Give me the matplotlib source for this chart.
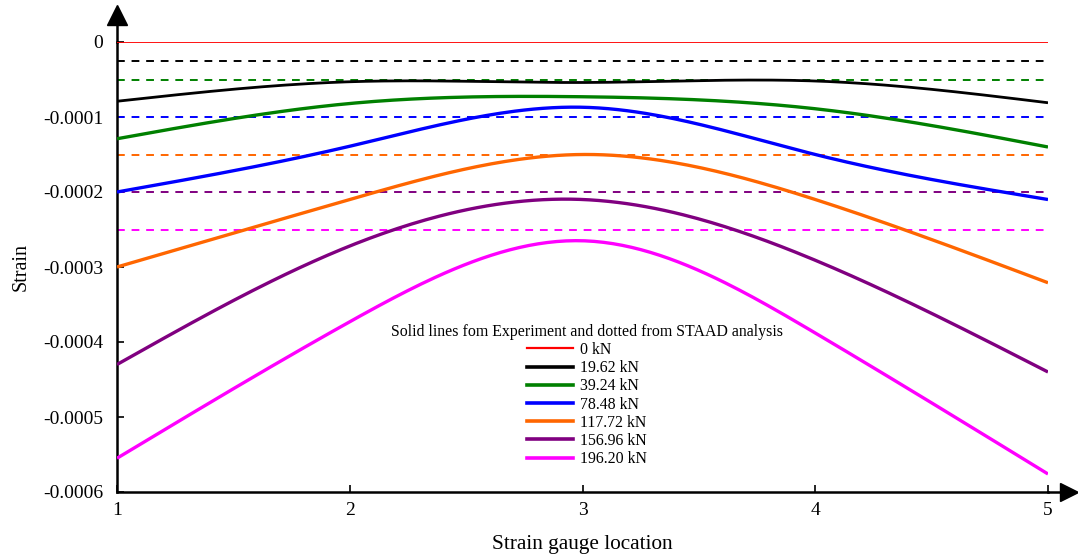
import numpy as np
import matplotlib
matplotlib.use("Agg")
import matplotlib.pyplot as plt
from matplotlib.lines import Line2D

# ---- data ----
locations = [1, 2, 3, 4, 5]
loads = ["0 kN", "19.62 kN", "39.24 kN", "78.48 kN", "117.72 kN", "156.96 kN", "196.20 kN"]
colors = ["#ff0000", "#000000", "#008000", "#0000ff", "#ff6600", "#800080", "#ff00ff"]

exp_0 = [0.0, 0.0, 0.0, 0.0, 0.0]
exp_19 = [-0.000079, -0.000053, -0.000054, -0.000052, -0.000081]
exp_39 = [-0.000129, -0.000082, -0.000073, -0.000089, -0.000140]
exp_78 = [-0.000200, -0.000139, -0.000087, -0.000150, -0.000210]
exp_117 = [-0.000300, -0.000210, -0.000150, -0.000210, -0.000321]
exp_156 = [-0.000430, -0.000272, -0.000210, -0.000291, -0.000440]
exp_196 = [-0.000555, -0.000373, -0.000265, -0.000388, -0.000576]
experiment = [exp_0, exp_19, exp_39, exp_78, exp_117, exp_156, exp_196]

staad = [0.0, -0.000025, -0.00005, -0.0001, -0.00015, -0.0002, -0.00025]

yticks = [0, -0.0001, -0.0002, -0.0003, -0.0004, -0.0005, -0.0006]
ytick_labels = ["0", "-0.0001", "-0.0002", "-0.0003", "-0.0004", "-0.0005", "-0.0006"]
xticks = [1, 2, 3, 4, 5]
xtick_labels = ["1", "2", "3", "4", "5"]


def smooth(xs, ys, n=200):
    """Natural cubic spline drawn through the measured points."""
    x = np.asarray(xs, float)
    y = np.asarray(ys, float)
    k = len(x)
    h = np.diff(x)
    A = np.zeros((k, k))
    r = np.zeros(k)
    A[0, 0] = 1
    A[-1, -1] = 1
    for i in range(1, k - 1):
        A[i, i - 1] = h[i - 1]
        A[i, i] = 2 * (h[i - 1] + h[i])
        A[i, i + 1] = h[i]
        r[i] = 6 * ((y[i + 1] - y[i]) / h[i] - (y[i] - y[i - 1]) / h[i - 1])
    M = np.linalg.solve(A, r)
    xx = np.linspace(x[0], x[-1], n)
    idx = np.clip(np.searchsorted(x, xx) - 1, 0, k - 2)
    x0, x1 = x[idx], x[idx + 1]
    hh = x1 - x0
    a = (x1 - xx) / hh
    b = (xx - x0) / hh
    yy = (a * y[idx] + b * y[idx + 1]
          + ((a ** 3 - a) * M[idx] + (b ** 3 - b) * M[idx + 1]) * hh ** 2 / 6)
    return xx, yy


plt.rcParams["font.family"] = ["Liberation Serif", "DejaVu Serif"]

W, H = 1078, 554
fig = plt.figure(figsize=(W / 100, H / 100), dpi=100)
ax = fig.add_axes([117 / W, (H - 492) / H, 931 / W, 450 / H])

# STAAD dotted lines
for i in range(1, len(staad)):
    ax.plot([locations[0], locations[-1]], [staad[i], staad[i]], color=colors[i],
            lw=1.4, dashes=(4, 3.5), zorder=2)

# experiment solid lines
widths = [1.3, 2.0, 2.4, 2.4, 2.4, 2.4, 2.4]
for i, ys in enumerate(experiment):
    sx, sy = smooth(locations, ys)
    ax.plot(sx, sy, color=colors[i], lw=widths[i], solid_capstyle="butt", zorder=3)

ax.set_xlim(1, 5)
ax.set_ylim(-0.0006, 0)
ax.set_xticks(xticks)
ax.set_xticklabels(xtick_labels)
ax.set_yticks(yticks)
ax.set_yticklabels(ytick_labels)
ax.tick_params(direction="in", length=5, width=1.2, labelsize=14)
ax.tick_params(axis="y", pad=10)
ax.tick_params(axis="x", pad=7)

for s in ["top", "right"]:
    ax.spines[s].set_visible(False)
for s in ["left", "bottom"]:
    ax.spines[s].set_linewidth(1.8)

# axis arrows
ax.plot([0, 0], [1, 1 + 20 / 450], transform=ax.transAxes, color="black", lw=1.8, clip_on=False)
ax.plot([0], [1 + 27 / 450], transform=ax.transAxes, marker="^", ms=14, color="black", clip_on=False)
ax.plot([1, 1 + 16 / 931], [0, 0], transform=ax.transAxes, color="black", lw=1.8, clip_on=False)
ax.plot([1 + 21 / 931], [0], transform=ax.transAxes, marker=">", ms=13, color="black", clip_on=False)

ax.set_xlabel("Strain gauge location", fontsize=15.3, labelpad=11.5)
ax.set_ylabel("Strain", fontsize=14.5, labelpad=9)

handles = [Line2D([], [], color=c, lw=2.6 if i else 1.6) for i, c in enumerate(colors)]
leg = fig.legend(handles, loads, title="Solid lines fom Experiment and dotted from STAAD analysis",
                 loc="upper center", bbox_to_anchor=(587 / W, 1 - 311 / H),
                 frameon=True, fontsize=11.4, title_fontsize=11.4, handlelength=2.85,
                 labelspacing=0.14, handletextpad=0.45, borderpad=0.3)
leg.get_frame().set_edgecolor("none")
leg.get_frame().set_facecolor("white")
leg.get_frame().set_alpha(1)

fig.savefig("out.png", dpi=100)
